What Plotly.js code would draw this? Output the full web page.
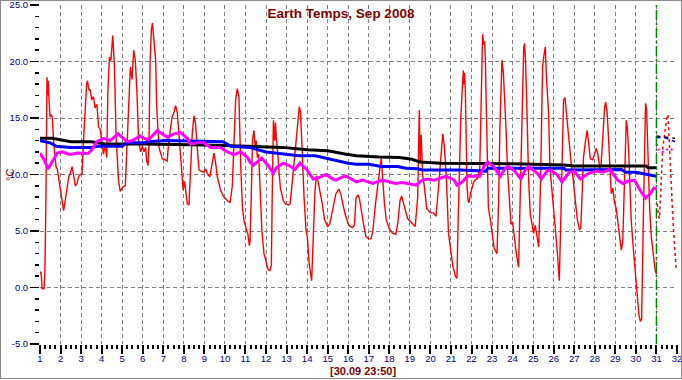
<!DOCTYPE html>
<html>
<head>
<meta charset="utf-8">
<script src="https://cdn.plot.ly/plotly-3.0.1.min.js"></script>
<style>
html,body{margin:0;padding:0;background:#fff;}
#wrap{position:relative;width:682px;height:380px;}
#chart{width:682px;height:380px;}
#frame{position:absolute;left:0;top:0;width:680px;height:377px;border:1px solid #8a8a8a;pointer-events:none;}
</style>
</head>
<body>
<div id="wrap"><div id="chart"></div><div id="frame"></div></div>
<script>
// ---- data (day of month, °C) ----
const tempDays = [
1.00,1.04,1.07,1.10,1.20,1.24,1.29,1.34,1.37,1.40,1.44,1.49,1.55,1.60,1.66,1.73,1.78,1.84,1.90,
2.00,2.07,2.15,2.23,2.32,2.40,2.48,2.56,2.64,2.72,2.80,2.88,2.96,
3.05,3.10,3.20,3.27,3.31,3.38,3.44,3.52,3.60,3.68,3.77,3.85,3.93,
4.02,4.09,4.17,4.25,4.30,4.38,4.45,4.50,4.54,4.58,4.62,4.70,4.82,4.90,4.97,
5.03,5.15,5.20,5.28,5.35,5.40,5.48,5.56,5.64,5.72,5.80,5.90,5.98,
6.06,6.14,6.19,6.26,6.30,6.36,6.42,6.47,6.52,6.58,6.63,6.68,6.79,6.87,6.95,
7.10,7.19,7.27,7.35,7.43,7.52,7.60,7.68,7.76,7.84,7.92,7.97,
8.04,8.12,8.17,8.25,8.33,8.41,8.49,8.57,8.66,8.74,8.82,8.98,
9.06,9.14,9.26,9.36,9.47,9.55,9.63,9.79,9.95,
10.12,10.25,10.36,10.44,10.52,10.60,10.68,10.77,10.85,10.93,
11.04,11.12,11.19,11.22,11.28,11.34,11.41,11.47,11.52,11.58,11.64,11.71,11.80,11.90,
12.00,12.10,12.19,12.26,12.30,12.36,12.42,12.46,12.50,12.55,12.62,12.70,12.84,12.95,
13.10,13.17,13.25,13.40,13.49,13.56,13.62,13.68,13.76,13.85,13.95,
14.01,14.10,14.22,14.30,14.38,14.45,14.52,14.60,14.71,14.85,
15.00,15.10,15.25,15.40,15.55,15.65,15.75,15.85,
16.00,16.10,16.20,16.30,16.38,16.48,16.54,16.65,16.73,16.86,
17.00,17.11,17.20,17.32,17.45,17.55,17.61,17.66,17.76,17.85,
18.00,18.15,18.32,18.42,18.52,18.60,18.70,18.80,18.89,
19.05,19.26,19.38,19.46,19.50,19.55,19.62,19.70,19.82,
20.00,20.15,20.27,20.40,20.50,20.60,20.68,20.78,20.88,
21.00,21.10,21.22,21.29,21.35,21.42,21.48,21.55,21.60,21.62,21.66,21.70,21.73,21.78,21.83,21.88,21.95,
22.02,22.10,22.18,22.30,22.40,22.45,22.49,22.54,22.60,22.64,22.67,22.72,22.77,22.82,22.90,
23.00,23.10,23.24,23.32,23.38,23.44,23.48,23.55,23.60,23.68,23.75,23.85,23.92,
24.00,24.08,24.18,24.29,24.36,24.42,24.48,24.54,24.58,24.63,24.70,24.78,24.86,24.95,
25.02,25.10,25.18,25.27,25.35,25.42,25.46,25.52,25.59,25.65,25.75,25.82,25.91,
26.00,26.10,26.20,26.27,26.33,26.40,26.48,26.55,26.64,26.72,26.76,26.85,26.95,
27.02,27.15,27.26,27.32,27.37,27.45,27.55,27.63,27.70,27.78,27.90,
28.00,28.07,28.15,28.25,28.31,28.40,28.48,28.53,28.60,28.66,28.72,28.80,28.88,28.96,
29.04,29.12,29.20,29.29,29.36,29.45,29.53,29.58,29.65,29.72,29.77,29.85,29.92,
30.00,30.07,30.15,30.22,30.28,30.35,30.42,30.47,30.52,30.58,30.67,30.75,30.85,30.94,31.00
];
const tempVals = [
1.2,1.4,0.9,-0.1,-0.1,1.5,8.0,18.6,17.0,18.3,16.6,15.1,15.3,15.0,13.0,11.5,10.7,10.5,9.8,
8.5,7.7,6.8,7.7,9.0,9.8,10.1,10.7,9.9,9.0,9.2,9.8,10.0,
10.1,12.4,16.6,18.0,18.3,17.5,17.5,16.6,16.9,15.9,16.2,14.2,14.0,
12.5,11.8,12.6,11.5,17.2,20.4,20.1,21.5,22.3,21.0,19.7,13.6,9.5,8.5,8.7,
8.9,9.0,10.7,14.5,17.5,19.5,18.4,21.0,20.1,17.2,12.9,12.0,12.5,
12.0,12.4,11.2,10.8,12.5,20.0,22.8,23.4,22.5,21.5,20.1,16.0,12.4,11.9,11.4,
11.3,11.2,13.0,14.0,15.1,15.5,16.1,15.5,13.6,11.2,9.2,8.6,
9.4,8.0,7.4,7.3,10.7,13.6,15.2,14.5,12.2,10.4,10.3,10.2,
10.5,10.1,9.8,11.0,11.9,11.0,9.8,8.6,8.0,
7.7,7.5,9.0,13.6,16.6,17.6,16.9,10.7,7.1,5.9,
5.3,4.7,3.7,4.0,8.0,13.0,13.9,12.5,13.0,11.5,11.8,8.0,5.0,3.0,
2.4,1.6,1.5,2.0,8.0,14.8,13.0,14.6,13.2,12.4,10.5,8.8,7.7,7.4,
7.3,7.4,8.8,12.0,14.0,15.5,16.0,15.5,11.5,8.0,5.0,
4.5,2.1,0.6,4.5,8.5,9.9,9.5,8.7,7.7,6.0,
5.4,5.6,6.8,8.3,8.7,8.2,7.3,6.5,
5.6,5.4,5.3,5.5,7.9,8.2,7.9,6.5,5.8,4.5,
4.3,4.3,5.0,7.3,9.5,10.7,11.4,9.8,7.5,6.0,
5.2,4.8,4.7,5.8,7.7,8.1,7.4,6.6,6.1,
5.8,5.4,8.0,15.7,11.0,13.5,10.0,9.0,7.0,
6.6,6.6,6.3,9.0,11.5,13.6,12.5,9.5,4.8,
3.0,1.8,1.0,0.8,6.0,11.0,15.1,17.5,19.2,18.0,19.0,17.5,12.0,9.0,7.7,7.5,8.3,
8.8,9.3,9.5,9.7,10.5,15.0,21.0,22.4,21.5,21.8,20.5,15.0,10.5,7.1,6.2,
4.8,3.5,3.0,7.7,14.0,19.5,20.1,19.0,17.5,14.0,10.5,7.0,5.6,
5.8,4.5,3.0,1.8,7.5,14.0,19.0,21.2,21.6,20.0,15.5,9.5,6.5,5.5,
4.8,5.5,4.5,3.6,8.5,15.5,19.5,20.5,21.3,18.5,15.5,10.5,8.8,
6.5,4.8,2.5,0.6,4.8,10.5,16.6,16.8,15.0,13.5,12.2,11.0,9.5,
8.0,6.0,5.1,5.3,7.7,11.5,13.0,13.9,12.8,11.4,11.3,
12.0,12.3,11.8,10.5,11.0,14.0,16.0,16.4,15.5,13.5,10.5,8.3,8.8,7.5,
7.0,5.8,4.5,3.3,4.0,9.0,14.8,14.2,12.0,8.5,6.0,4.0,2.4,
1.0,-0.5,-2.5,-3.0,-2.8,5.0,14.0,16.3,15.8,12.0,7.0,4.5,3.0,1.5,1.2
];

const monthDays = [1.0,1.6,2.5,3.5,4.2,6.0,9.0,11.2,12.8,14.0,15.0,15.9,16.4,17.5,18.5,19.1,19.5,20.5,21.5,24.0,26.5,27.0,30.5,30.6,31.0];
const monthVals = [13.2,13.2,12.9,12.9,12.7,12.7,12.6,12.45,12.4,12.2,12.1,11.8,11.65,11.55,11.5,11.35,11.1,11.0,11.0,10.95,10.85,10.75,10.75,10.6,10.6];

const weekDays = [1.0,1.5,1.8,2.5,3.5,3.8,5.0,5.2,6.1,6.2,7.2,9.9,10.3,11.2,12.0,12.8,13.6,14.4,15.0,15.6,16.0,16.4,17.0,17.6,18.4,18.8,19.4,19.6,21.5,22.7,22.8,26.5,26.6,29.3,29.5,30.0,30.5,31.0];
const weekVals = [13.0,12.8,12.5,12.4,12.4,12.5,12.5,12.8,12.8,12.9,13.0,12.9,12.5,12.4,12.0,11.8,11.65,11.65,11.4,11.1,11.0,10.9,10.9,10.7,10.7,10.55,10.5,10.4,10.4,10.3,10.55,10.55,10.4,10.45,10.2,10.2,10.0,9.85];

const dayMeanDays = [1.0,1.2,1.4,1.6,1.84,2.08,2.4,2.56,2.8,3.2,3.37,3.53,3.77,4.1,4.42,4.8,5.0,5.24,5.48,5.88,6.06,6.3,6.71,6.96,7.19,7.52,7.84,8.17,8.33,8.66,8.98,9.3,9.79,10.12,10.44,10.77,11.1,11.22,11.38,11.79,12.1,12.35,12.5,12.84,13.17,13.41,13.65,13.98,14.3,14.6,14.92,15.25,15.41,15.74,15.9,16.25,16.41,16.7,17.2,17.67,18.0,18.3,18.65,19.3,19.6,19.87,20.2,20.76,21.16,21.3,21.56,21.8,22.4,22.6,22.8,23.08,23.4,23.65,23.8,24.1,24.4,24.6,24.78,25.2,25.4,25.67,25.83,26.16,26.4,26.57,26.76,27.0,27.3,27.7,28.1,28.4,28.72,29.12,29.37,29.6,29.93,30.26,30.47,30.7,30.88,31.0];
const dayMeanVals = [11.9,11.3,10.5,11.2,11.9,12.0,11.8,11.8,11.9,11.85,11.9,12.2,12.9,13.2,13.0,13.6,13.3,12.9,13.0,13.4,13.2,13.1,13.9,13.6,13.3,13.6,13.7,13.2,12.7,12.8,12.8,12.4,12.4,12.0,11.75,12.0,11.5,11.1,10.8,11.45,10.8,10.1,10.6,11.0,10.75,10.45,11.0,10.45,9.6,9.75,10.0,9.6,9.5,9.8,9.85,9.5,9.35,9.5,9.2,9.5,9.35,9.2,9.3,9.05,9.5,9.6,9.5,9.85,9.5,9.05,9.35,9.85,9.85,10.7,11.1,10.7,9.85,10.55,10.7,10.3,9.6,10.35,10.7,10.1,9.6,10.3,10.4,10.0,9.35,9.8,10.2,10.3,9.6,10.1,10.3,10.2,10.45,9.5,9.2,9.4,9.5,8.45,7.9,8.3,8.8,8.75];

// forecast (day 31 to 32)
const fcDays = [31.04,31.10,31.15,31.20,31.30,31.40,31.50,31.56,31.62,31.70,31.80,31.90,31.96];
const fcTemp = [7.4,6.3,6.1,7.8,12.2,13.6,15.0,15.3,13.5,10.0,6.0,3.0,1.5];
const fcMonthDays = [31.0,31.9];
const fcMonthVals = [13.4,13.2];
const fcWeekDays = [31.0,31.5,31.9];
const fcWeekVals = [13.3,13.2,12.9];
const fcDayMeanDays = [31.0,31.15,31.3,31.5,31.7,31.85];
const fcDayMeanVals = [12.7,12.1,12.0,12.2,12.3,12.0];

const nowDay = 31;
const xTicks = [1,2,3,4,5,6,7,8,9,10,11,12,13,14,15,16,17,18,19,20,21,22,23,24,25,26,27,28,29,30,31,32];
const xGrid = [2,3,4,5,6,7,8,9,10,11,12,13,14,15,16,17,18,19,20,21,22,23,24,25,26,27,28,29,30,31];
const yTicks = [-5,0,5,10,15,20,25];
const yGrid = [0,5,10,15,20];

const titleText = 'Earth Temps, Sep 2008';
const xTitleText = '[30.09 23:50]';
const yTitleText = '°C';

// ---- chart ----
const FONT = '"Liberation Sans", Arial, sans-serif';
const traces = [
  {x: tempDays, y: tempVals, type:'scatter', mode:'lines', line:{color:'#ff0000', width:1.4}, hoverinfo:'skip'},
  {x: monthDays, y: monthVals, type:'scatter', mode:'lines', line:{color:'#000000', width:3}, hoverinfo:'skip'},
  {x: weekDays, y: weekVals, type:'scatter', mode:'lines', line:{color:'#0000ff', width:3}, hoverinfo:'skip'},
  {x: dayMeanDays, y: dayMeanVals, type:'scatter', mode:'lines', line:{color:'#ff00ff', width:3}, hoverinfo:'skip'},
  {x: fcDays, y: fcTemp, xaxis:'x2', yaxis:'y2', type:'scatter', mode:'lines', line:{color:'#ff0000', width:1.5, dash:'3px,3px'}, hoverinfo:'skip'},
  {x: fcMonthDays, y: fcMonthVals, xaxis:'x2', yaxis:'y2', type:'scatter', mode:'lines', line:{color:'#000000', width:1.5, dash:'4px,4px'}, hoverinfo:'skip'},
  {x: fcWeekDays, y: fcWeekVals, xaxis:'x2', yaxis:'y2', type:'scatter', mode:'lines', line:{color:'#0000ff', width:1.5, dash:'4px,4px'}, hoverinfo:'skip'},
  {x: fcDayMeanDays, y: fcDayMeanVals, xaxis:'x2', yaxis:'y2', type:'scatter', mode:'lines', line:{color:'#ff00ff', width:2, dash:'2px,3px'}, hoverinfo:'skip'}
];

const tickFont = {family: FONT, size: 9.5, color: '#000080'};
const layout = {
  width: 682, height: 380,
  margin: {l: 40, r: 5, t: 5, b: 36},
  paper_bgcolor: '#ffffff', plot_bgcolor: '#ffffff',
  showlegend: false,
  title: {text: titleText, x: 0.5, xref: 'container', xanchor: 'center', y: 1 - 13/380, yref: 'container', yanchor: 'middle',
          font: {family: FONT, size: 13.5, color: '#800000', weight: 'bold'}},
  // main axes: tick marks only
  xaxis: {range: [1, 32], tickmode: 'array', tickvals: xTicks, showticklabels: false,
          ticks: 'outside', ticklen: 9, tickwidth: 2, tickcolor: '#000000',
          minor: {dtick: 0.25, tick0: 1, ticks: 'outside', ticklen: 4, tickwidth: 2, tickcolor: '#000000', showgrid: false},
          showgrid: false, zeroline: false, showline: false, fixedrange: true},
  yaxis: {range: [-5, 25], tickmode: 'array', tickvals: yTicks, ticktext: yTicks.map(v => v.toFixed(1)),
          ticks: 'outside', ticklen: 9, tickwidth: 1.5, tickcolor: '#000000', ticklabeloverflow: 'allow',
          minor: {dtick: 1, tick0: 0, ticks: 'outside', ticklen: 4, tickwidth: 1.5, tickcolor: '#000000', showgrid: false},
          showgrid: false, zeroline: false, showline: false, tickfont: tickFont, fixedrange: true},
  // overlay axes: dashed grid + x tick labels
  xaxis2: {overlaying: 'x', anchor: 'y2', side: 'bottom', range: [1, 32], tickmode: 'array', tickvals: xTicks, ticktext: xTicks.map(String),
           ticks: 'outside', ticklen: 6, tickcolor: 'rgba(0,0,0,0)', ticklabeloverflow: 'allow', tickfont: tickFont,
           showgrid: false, zeroline: false, showline: false, fixedrange: true},
  xaxis3: {overlaying: 'x', anchor: 'y2', range: [1, 32], tickmode: 'array', tickvals: xGrid,
           showticklabels: false, ticks: '', showgrid: true, gridcolor: '#808080', gridwidth: 1, griddash: '4px,3px',
           zeroline: false, showline: false, fixedrange: true},
  yaxis2: {overlaying: 'y', anchor: 'x2', side: 'left', range: [-5, 25], tickmode: 'array', tickvals: yGrid,
           showticklabels: false, ticks: '', showgrid: true, gridcolor: '#808080', gridwidth: 1, griddash: '4px,3px',
           zeroline: false, showline: false, fixedrange: true},
  shapes: [
    {type: 'line', xref: 'x', yref: 'paper', x0: nowDay, x1: nowDay, y0: 0, y1: 1, layer: 'above',
     line: {color: '#008000', width: 1.5, dash: '10px,3px,2px,3px'}}
  ],
  annotations: [
    {text: xTitleText, xref: 'paper', yref: 'paper', x: (363 - 40) / 637, y: -(371 - 344) / 339,
     xanchor: 'center', yanchor: 'middle', showarrow: false,
     font: {family: FONT, size: 11, color: '#800000', weight: 'bold'}},
    {text: yTitleText, xref: 'paper', yref: 'paper', x: -30 / 637, y: (344 - 175) / 339, textangle: -90,
     xanchor: 'center', yanchor: 'middle', showarrow: false,
     font: {family: FONT, size: 11, color: '#800000'}}
  ]
};
// a trace on x3 so the grid axis gets drawn
traces.push({x: fcWeekDays, y: fcWeekVals, xaxis: 'x3', yaxis: 'y2', type: 'scatter', mode: 'lines',
             line: {color: 'rgba(0,0,0,0)', width: 0}, hoverinfo: 'skip'});

Plotly.newPlot('chart', traces, layout, {displayModeBar: false, staticPlot: true});
</script>
</body>
</html>
